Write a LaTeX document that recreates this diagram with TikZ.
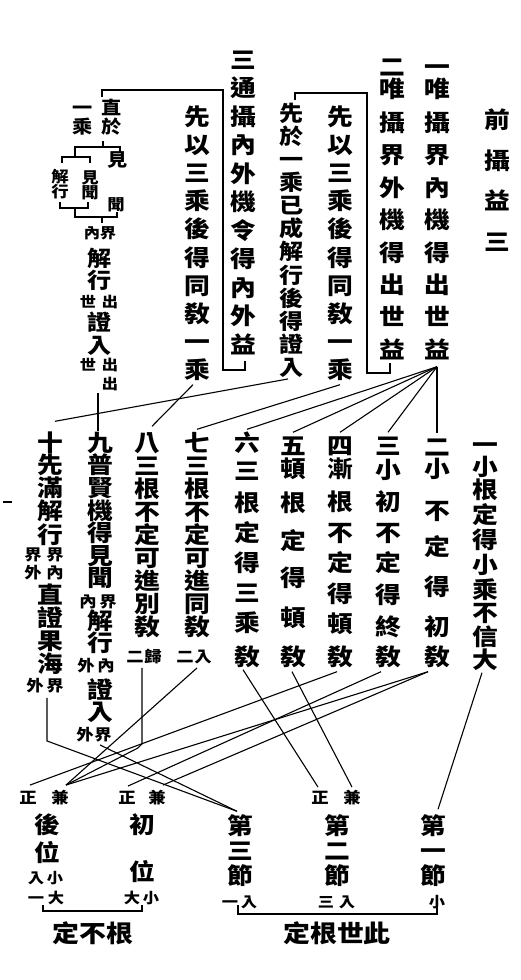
\documentclass[tikz,border=0pt]{standalone}
\usepackage{fontspec}
\newfontfamily\cjk{Noto Sans CJK TC}[FakeStretch=1.12]
\tikzset{
  big/.style={inner sep=0pt, font=\cjk\bfseries\fontsize{23}{23}\selectfont, text height=20.2pt, text depth=2.8pt},
  bigs/.style={inner sep=0pt, font=\cjk\bfseries\fontsize{21.5}{21.5}\selectfont, text height=18.9pt, text depth=2.6pt},
  mid/.style={inner sep=0pt, font=\cjk\bfseries\fontsize{18}{18}\selectfont, text height=15.8pt, text depth=2.2pt},
  sm/.style={inner sep=0pt, font=\cjk\bfseries\fontsize{15.5}{15.5}\selectfont, text height=13.6pt, text depth=1.9pt},
  xs/.style={inner sep=0pt, font=\cjk\bfseries\fontsize{14.5}{14.5}\selectfont, text height=12.8pt, text depth=1.7pt},
  lbl/.style={inner sep=0pt, font=\cjk\bfseries\fontsize{24}{24}\selectfont},
  ln/.style={line width=1.1pt},
}
\newcommand\vcolp[4][big]{\foreach \ch/\yy [count=\i from 0] in {#4}{\node[#1] (#2-\i) at (#3,\yy) {\ch};}}
\begin{document}
\begin{tikzpicture}[x=1pt,y=-1pt]
\useasboundingbox (0,0) rectangle (520,980);
\fill[white] (0,0) rectangle (520,980);
% title
\vcolp{ti}{497}{前/120,攝/161,益/201,三/242}
% top columns
\vcolp{a1}{437}{一/67,唯/89,攝/123,界/155,內/188,機/220,得/253,出/285,世/317,益/350}
\vcolp{a2}{392}{二/67,唯/89,攝/123,界/155,外/188,機/220,得/253,出/285,世/317,益/350}
\vcolp{b2}{340}{先/117,以/145,三/173,乘/201,後/229,得/258,同/286,敎/314,一/342,乘/370}
\vcolp[bigs]{c2}{292}{先/113,於/136,一/159,乘/182,已/205,成/228,解/251,行/275,後/298,得/321,證/344,入/367}
\vcolp{a3}{243}{三/60,通/88,攝/117,內/145,外/174,機/202,令/231,得/259,內/288,外/316,益/345}
\vcolp{b3}{197}{先/117,以/145,三/173,乘/201,後/229,得/258,同/286,敎/314,一/342,乘/370}
% brackets top
\draw[ln] (390,363) -- (390,373) -- (367,373) -- (367,93) -- (295,93) -- (295,100);
\draw[ln] (245,361) -- (245,370) -- (223,370) -- (223,90) -- (102,90) -- (102,97);
% group 直於一乘
\node[mid] (g1) at (83,108) {一};
\node[mid] (g2) at (112,108) {直};
\node[mid] (g3) at (83,127) {乘};
\node[mid] (g4) at (112,127) {於};
\node[mid] (g5) at (118,160) {見};
\node[sm] (g6) at (60,177) {解};
\node[sm] (g7) at (60,192) {行};
\node[sm] (g8) at (90,178) {見};
\node[sm] (g9) at (90,193) {聞};
\node[sm] (g10) at (116,205) {聞};
\node[xs] (g11) at (92,233) {內};
\node[xs] (g12) at (108,233) {界};
\node[bigs] (g13) at (100,258) {解};
\node[bigs] (g14) at (100,280) {行};
\node[xs] (g15) at (88,302) {世};
\node[xs] (g16) at (110,302) {出};
\node[bigs] (g17) at (100,322) {證};
\node[bigs] (g18) at (100,345) {入};
\node[xs] (g19) at (88,365) {世};
\node[xs] (g20) at (110,365) {出};
\node[xs] (g21) at (110,384) {出};
\draw[ln] (103,141) -- (103,147);
\draw[ln] (120,152) -- (120,147) -- (75,147) -- (75,157);
\draw[ln] (62,163) -- (62,157) -- (90,157) -- (90,163);
\draw[ln] (60,202) -- (60,208) -- (88,208) -- (88,202);
\draw[ln] (75,208) -- (75,217) -- (117,217) -- (117,212);
\draw[ln] (102,217) -- (102,223);
% middle columns
\vcolp{m10}{50}{十/443,先/465,滿/488,解/511,行/535,直/595,證/618,果/641,海/664}
\vcolp{m9}{100}{九/443,普/465,賢/488,機/511,得/533,見/556,聞/578,解/621,行/643,證/690,入/712}
\vcolp{m8}{147}{八/443,三/466,根/489,不/512,定/535,可/558,進/581,別/604,敎/627}
\vcolp{m7}{197}{七/443,三/466,根/489,不/512,定/535,可/558,進/581,同/604,敎/627}
\vcolp{m6}{247}{六/443,三/471,根/503,定/533,得/563,三/593,乘/623,敎/657}
\vcolp{m5}{293}{五/446,頓/469,根/503,定/541,得/578,頓/618,敎/657}
\vcolp{m4}{340}{四/446,漸/469,根/502,不/533,定/563,得/594,頓/624,敎/657}
\vcolp{m3}{388}{三/446,小/470,初/502,不/533,定/563,得/595,終/627,敎/657}
\vcolp{m2}{437}{二/447,小/469,不/511,定/547,得/587,初/627,敎/657}
\vcolp{m1}{485}{一/445,小/467,根/490,定/515,得/540,小/565,乘/590,不/613,信/637,大/660}
% small annotations
\node[sm] (s10a) at (33,555) {界};
\node[sm] (s10b) at (55,555) {界};
\node[sm] (s10c) at (33,573) {外};
\node[sm] (s10d) at (55,573) {內};
\node[sm] (s10e) at (35,686) {外};
\node[sm] (s10f) at (55,686) {界};
\node[sm] (s9a) at (88,602) {內};
\node[sm] (s9b) at (108,602) {界};
\node[sm] (s9c) at (86,666) {外};
\node[sm] (s9d) at (106,666) {內};
\node[sm] (s9e) at (85,735) {外};
\node[sm] (s9f) at (103,735) {界};
\node[sm] (s8a) at (135,657) {二};
\node[sm] (s8b) at (153,657) {歸};
\node[sm] (s7a) at (185,657) {二};
\node[sm] (s7b) at (203,657) {入};
% bottom
\node[sm] (zL) at (28,798) {正};
\node[sm] (jL) at (60,798) {兼};
\node[sm] (zM) at (127,798) {正};
\node[sm] (jM) at (157,798) {兼};
\node[sm] (zR) at (320,798) {正};
\node[sm] (jR) at (352,798) {兼};
\vcolp{hw}{47}{後/825,位/853}
\vcolp{cw}{142}{初/825,位/872}
\vcolp{d3}{240}{第/826,三/851,節/876}
\vcolp{d2}{337}{第/826,二/851,節/876}
\vcolp{d1}{433}{第/826,一/851,節/876}
\node[xs] (u1) at (36,878) {入};
\node[xs] (u2) at (55,878) {小};
\node[xs] (u3) at (36,898) {一};
\node[xs] (u4) at (56,898) {大};
\node[xs] (u5) at (132,898) {大};
\node[xs] (u6) at (151,898) {小};
\node[xs] (u7) at (230,902) {一};
\node[xs] (u8) at (249,902) {入};
\node[xs] (u9) at (326,902) {三};
\node[xs] (u10) at (347,902) {入};
\node[xs] (u11) at (437,902) {小};
\draw[ln] (43,905) -- (43,911) -- (142,911) -- (142,905);
\draw[ln] (238,905) -- (238,914) -- (437,914) -- (437,905);
\node[lbl] (L1) at (93,933) {定不根};
\node[lbl] (L2) at (337,933) {定根世此};
% top connectors
\foreach \t in {m6-0,m5-0,m4-0,m3-0,m2-0}{\draw[ln] ([yshift=-5pt]a1-9.south) -- ([yshift=2pt]\t.north);}
\draw[ln] ([yshift=-3pt]b2-9.south) -- ([yshift=2pt]m7-0.north);
\draw[ln] ([xshift=-4pt,yshift=-3pt]b3-9.south) -- ([xshift=5pt,yshift=5pt]m8-0.north);
\draw[ln] ([xshift=-4pt,yshift=-1pt]c2-11.south) -- ([xshift=5pt,yshift=10pt]m10-0.north);
\draw[ln] ([xshift=-12pt,yshift=-2pt]g21.south) -- ([xshift=-2pt]m9-0.north);
% bottom connectors
\draw[ln] ([xshift=12pt,yshift=-4pt]s10e.south) -- ++(0,43) -- ([xshift=-3pt,yshift=3pt]d3-0.north);
\draw[ln] ([xshift=15pt,yshift=-2pt]s9e.south) -- ([xshift=-3pt,yshift=3pt]d3-0.north);
\draw[ln] ([xshift=7pt,yshift=-3pt]s8a.south) -- ++(0,76) -- ++(-4,4) -- ([xshift=6pt,yshift=5pt]jL.north);
\draw[ln] ([xshift=12pt,yshift=-3pt]s7a.south) -- ([xshift=6pt,yshift=5pt]jL.north);
\draw[ln] ([xshift=-3pt,yshift=-3pt]m4-7.south) -- ([xshift=2pt,yshift=5pt]zL.north);
\draw[ln] ([xshift=-7pt,yshift=-3pt]m3-7.south) -- ([xshift=1pt,yshift=4pt]zM.north);
\draw[ln] ([xshift=-9pt,yshift=-3pt]m2-6.south) -- ([xshift=6pt,yshift=5pt]jL.north);
\draw[ln] ([xshift=-9pt,yshift=-3pt]m2-6.south) -- ([xshift=6pt,yshift=5pt]jM.north);
\draw[ln] ([xshift=-4pt,yshift=-1pt]m6-7.south) -- ([xshift=-2pt,yshift=3pt]zR.north);
\draw[ln] ([xshift=-1pt,yshift=-3pt]m5-6.south) -- ([yshift=3pt]jR.north);
\draw[ln] ([xshift=-3pt,yshift=-1pt]m1-9.south) -- ([xshift=5pt,yshift=5pt]d1-0.north);
% edge mark
\draw[ln] (3,502) -- (12,502);
\end{tikzpicture}
\end{document}
